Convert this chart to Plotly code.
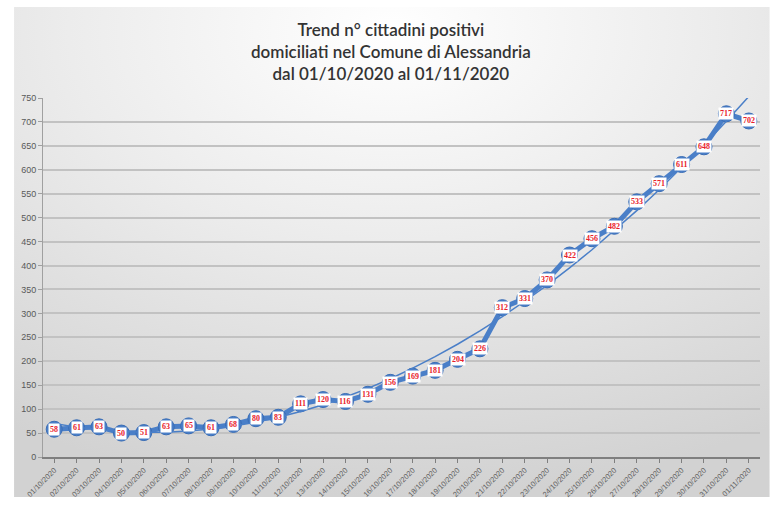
import base64
import numpy as np
import plotly.graph_objects as go

dates = [f"{d:02d}/10/2020" for d in range(1, 32)] + ["01/11/2020"]
positivi = [58, 61, 63, 50, 51, 63, 65, 61, 68, 80, 83, 111, 120, 116, 131, 156,
            169, 181, 204, 226, 312, 331, 370, 422, 456, 482, 533, 571, 611, 648, 717, 702]
y_ticks = list(range(0, 751, 50))
title_lines = ["Trend n° cittadini positivi",
               "domiciliati nel Comune di Alessandria",
               "dal 01/10/2020 al 01/11/2020"]

x = np.arange(len(dates))
coef = np.polyfit(x, positivi, 2)
trend = np.polyval(coef, x)

blue = "#4a7fc8"

svg = """<svg xmlns='http://www.w3.org/2000/svg' width='760' height='490' preserveAspectRatio='none'>
<defs><radialGradient id='g' cx='50%' cy='5%' r='95%' fx='50%' fy='5%'>
<stop offset='0%' stop-color='#ffffff'/><stop offset='45%' stop-color='#ececec'/>
<stop offset='100%' stop-color='#d2d2d2'/></radialGradient></defs>
<rect width='760' height='490' fill='url(#g)'/></svg>"""
src = "data:image/svg+xml;base64," + base64.b64encode(svg.encode()).decode()

fig = go.Figure()
fig.add_trace(go.Scatter(x=x, y=positivi, mode="lines+markers",
                         line=dict(color=blue, width=5),
                         marker=dict(symbol="circle", size=16, color=blue,
                                     line=dict(color="#3a6db5", width=1)),
                         hoverinfo="skip", showlegend=False))
fig.add_trace(go.Scatter(x=x, y=trend, mode="lines",
                         line=dict(color="#4a7fc8", width=1.5),
                         hoverinfo="skip", showlegend=False))

for xi, v in zip(x, positivi):
    fig.add_annotation(x=xi, y=v, xref="x", yref="y", text=f"<b>{v}</b>",
                       showarrow=False, bgcolor="white", borderpad=1,
                       font=dict(family="Liberation Serif", size=8, color="#e8202a"))

fig.add_annotation(x=0.485, y=1.225, xref="paper", yref="paper", xanchor="center", yanchor="top",
                   text="<br>".join(title_lines), showarrow=False, align="center",
                   font=dict(family="Lato", size=17, color="#333333", weight=600))

fig.add_layout_image(dict(source=src, xref="paper", yref="paper", x=-0.0404, y=1.2535,
                          sizex=1.054, sizey=1.365, xanchor="left", yanchor="top",
                          sizing="stretch", layer="below"))

fig.update_layout(
    width=781, height=517,
    margin=dict(l=43, r=21, t=98, b=60),
    paper_bgcolor="white", plot_bgcolor="rgba(0,0,0,0)",
    xaxis=dict(range=[-0.5, len(dates) - 0.5], tickmode="array", tickvals=x, ticktext=dates,
               tickangle=-45, tickfont=dict(family="Liberation Sans", size=7.5, color="#606060"),
               showgrid=False, zeroline=False, showline=True, linecolor="#7f7f7f", linewidth=2,
               ticks="outside", ticklen=4, tickcolor="#7f7f7f"),
    yaxis=dict(range=[0, 750], tickvals=y_ticks,
               tickfont=dict(family="Liberation Sans", size=9, color="#595959"),
               showgrid=True, gridcolor="#c2c2c2", gridwidth=1.5, zeroline=False,
               showline=True, linecolor="#a0a0a0", linewidth=1,
               ticks="outside", ticklen=4, tickcolor="#a0a0a0"),
)

fig.write_html("out.html")
